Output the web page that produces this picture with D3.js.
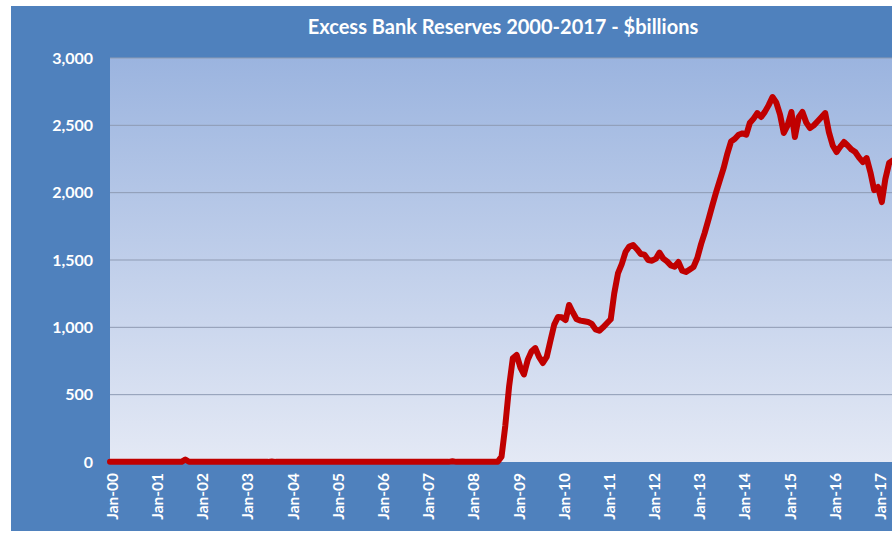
<!DOCTYPE html>
<html><head><meta charset="utf-8">
<script src="https://cdn.jsdelivr.net/npm/d3@7"></script>
<style>body{margin:0;background:#fff}svg{display:block}</style>
</head><body>
<script>
const title = "Excess Bank Reserves 2000-2017 - $billions";
const startYear = 2000;
// monthly excess reserves, $billions, Jan-2000 onward
const pre2008 = [
 1,1,1,1,1,1,1,1,1,1,1,1,        // 2000
 1,1,1,1,1,1,1,1,19,2,1,1,       // 2001
 1,1,1,1,1,1,1,1,1,1,1,1,        // 2002
 1,1,1,1,1,1,1,4,1,1,1,1,        // 2003
 1,1,1,1,1,1,1,1,1,1,1,1,        // 2004
 1,1,1,1,1,1,1,1,1,1,1,1,        // 2005
 1,1,1,1,1,1,1,1,1,1,1,1,        // 2006
 1,1,1,1,1,1,1,5,1,1,1,1         // 2007
];
const y2008 = [2,2,2,2,2,2,2,2,40,267,560,770];
const y2009 = [795,700,650,760,820,846,780,735,780,900,1020,1077];
const y2010 = [1075,1054,1166,1110,1060,1050,1045,1040,1025,985,975,1000];
const y2011 = [1030,1060,1250,1403,1470,1560,1600,1611,1580,1545,1540,1500];
const y2012 = [1495,1510,1555,1510,1490,1460,1450,1485,1420,1411,1430,1448];
const y2013 = [1515,1620,1700,1800,1900,2000,2090,2180,2290,2380,2400,2430];
const y2014 = [2440,2430,2517,2550,2591,2562,2600,2650,2710,2670,2580,2443];
const y2015 = [2500,2599,2413,2560,2599,2520,2480,2500,2530,2560,2591,2450];
const y2016 = [2350,2302,2340,2376,2350,2320,2302,2260,2227,2257,2150,2019];
const y2017 = [2042,1930,2100,2220,2240];
const values = [].concat(pre2008,y2008,y2009,y2010,y2011,y2012,y2013,y2014,y2015,y2016,y2017);
const yTicks = [0,500,1000,1500,2000,2500,3000];
const xTickYears = d3.range(2000,2018);
const monthNames = ["Jan","Feb","Mar","Apr","May","Jun","Jul","Aug","Sep","Oct","Nov","Dec"];

const W=892,H=534;
const svg=d3.select("body").append("svg").attr("width",W).attr("height",H);
const defs=svg.append("defs");
const g1=defs.append("linearGradient").attr("id","pg").attr("x1",0).attr("y1",0).attr("x2",0).attr("y2",1);
g1.append("stop").attr("offset","0%").attr("stop-color","#9bb4df");
g1.append("stop").attr("offset","100%").attr("stop-color","#e4e9f5");

// outer panel
svg.append("rect").attr("x",11).attr("y",6).attr("width",W-11).attr("height",525).attr("fill","#4f81bd");

const pL=110,pT=58,pB=462;
const x=d3.scaleTime().domain([new Date(2000,0,1),new Date(2017,0,1)]).range([pL,878]);
const y=d3.scaleLinear().domain([0,3000]).range([pB,pT]);

svg.append("rect").attr("x",pL).attr("y",pT).attr("width",W-pL).attr("height",pB-pT).attr("fill","url(#pg)");

// gridlines
svg.append("g").selectAll("line").data(yTicks.filter(d=>d>0)).join("line")
 .attr("x1",pL).attr("x2",W).attr("y1",d=>y(d)).attr("y2",d=>y(d))
 .attr("stroke","#8e9bb3").attr("stroke-width",1);

// y axis labels
const yAxis=d3.axisLeft(y).tickValues(yTicks).tickFormat(d3.format(",")).tickSize(0).tickPadding(17);
const ya=svg.append("g").attr("transform",`translate(${pL},0)`).call(yAxis);
ya.select(".domain").remove();
ya.selectAll("text").attr("fill","#fff").attr("font-family","Lato, 'Open Sans', sans-serif")
 .attr("font-weight","bold").attr("font-size","16px");

// x axis labels
const xAxis=d3.axisBottom(x).tickValues(xTickYears.map(yr=>new Date(yr,0,1)))
 .tickFormat(d=>monthNames[d.getMonth()]+"-"+String(d.getFullYear()).slice(2)).tickSize(0);
const xa=svg.append("g").attr("transform",`translate(0,${pB})`).call(xAxis);
xa.select(".domain").remove();
xa.selectAll("text").attr("fill","#fff").attr("font-family","Lato, 'Open Sans', sans-serif")
 .attr("font-weight","bold").attr("font-size","15.5px")
 .attr("transform","rotate(-90)").attr("text-anchor","end").attr("dy","0.35em")
 .attr("x",-11).attr("y",2);

// line
const data=values.map((v,i)=>({d:new Date(startYear,i,1),v}));
svg.append("path").datum(data)
 .attr("fill","none").attr("stroke","#c00000").attr("stroke-width",6)
 .attr("stroke-linejoin","round").attr("stroke-linecap","round")
 .attr("d",d3.line().x(d=>x(d.d)).y(d=>y(d.v)));

// title
svg.append("text").attr("x",503).attr("y",34).attr("text-anchor","middle")
 .attr("fill","#fff").attr("font-family","Lato, 'Open Sans', sans-serif")
 .attr("font-weight","bold").attr("font-size","20px").text(title);
</script>
</body></html>
